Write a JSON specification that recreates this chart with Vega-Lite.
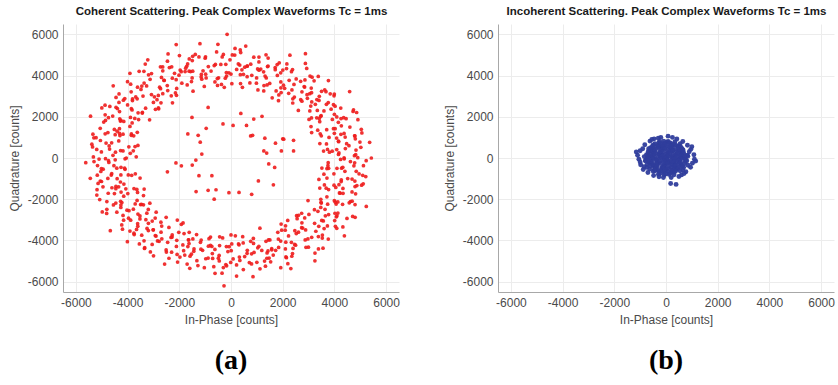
{
"$schema": "https://vega.github.io/schema/vega-lite/v6.json",
"padding": {"left": 8, "top": 5, "right": 2, "bottom": 2},
"background": "white",
"config": {
 "view": {"stroke": null},
 "font": "Liberation Sans",
 "locale": {"number": {"decimal": ".", "thousands": ",", "grouping": [3], "currency": ["$", ""], "minus": "-"}},
 "axis": {"labelFont": "Liberation Sans", "labelFontSize": 12, "labelColor": "#4a4a4a", "titleFont": "Liberation Sans", "titleFontSize": 12, "titleFontWeight": "normal", "titleColor": "#4a4a4a", "domainColor": "#a8a8a8", "gridColor": "#ececec", "ticks": false, "labelPadding": 5, "format": "d"}
},
"datasets": {
"coherent": [
{"x":3760,"y":-230},{"x":4380,"y":-40},{"x":5230,"y":-130},{"x":4240,"y":-70},{"x":4825,"y":160},{"x":4375,"y":4},{"x":3582,"y":338},{"x":4836,"y":385},{"x":4158,"y":172},{"x":5364,"y":758},{"x":4091,"y":410},{"x":4474,"y":693},{"x":3694,"y":681},{"x":4988,"y":771},{"x":4165,"y":794},{"x":4417,"y":1013},{"x":3794,"y":996},{"x":5063,"y":1217},{"x":4252,"y":1147},{"x":3494,"y":1074},{"x":4375,"y":1191},{"x":4910,"y":1857},{"x":3703,"y":1374},{"x":4600,"y":1500},{"x":4153,"y":1732},{"x":3120,"y":1235},{"x":4359,"y":1954},{"x":3920,"y":1868},{"x":4861,"y":2207},{"x":3433,"y":1761},{"x":4000,"y":2120},{"x":3417,"y":1910},{"x":4247,"y":2420},{"x":3488,"y":2054},{"x":4027,"y":2516},{"x":3316,"y":1950},{"x":3987,"y":3018},{"x":3692,"y":2604},{"x":3114,"y":1944},{"x":3404,"y":2793},{"x":3998,"y":3104},{"x":3263,"y":2602},{"x":3675,"y":3215},{"x":3124,"y":2721},{"x":2605,"y":2308},{"x":3504,"y":3234},{"x":2941,"y":3071},{"x":3769,"y":3759},{"x":2743,"y":2756},{"x":3104,"y":3392},{"x":2389,"y":2668},{"x":3138,"y":3923},{"x":2745,"y":3211},{"x":2849,"y":3440},{"x":2232,"y":3136},{"x":3058,"y":3977},{"x":2694,"y":3722},{"x":1851,"y":3058},{"x":2437,"y":3569},{"x":2929,"y":4347},{"x":1930,"y":3407},{"x":2380,"y":4290},{"x":2250,"y":3767},{"x":1594,"y":2918},{"x":2005,"y":4266},{"x":1928,"y":3690},{"x":2279,"y":4987},{"x":1499,"y":3617},{"x":1793,"y":4006},{"x":1396,"y":3543},{"x":1786,"y":4533},{"x":1319,"y":3976},{"x":1413,"y":4435},{"x":1276,"y":3514},{"x":1437,"y":4845},{"x":1084,"y":4262},{"x":984,"y":3631},{"x":1151,"y":4314},{"x":882,"y":4893},{"x":804,"y":4008},{"x":1080,"y":4660},{"x":532,"y":4406},{"x":442,"y":3427},{"x":764,"y":4551},{"x":422,"y":4278},{"x":358,"y":5243},{"x":361,"y":4040},{"x":284,"y":4565},{"x":33,"y":3606},{"x":145,"y":4995},
{"x":0,"y":4070},{"x":-40,"y":4760},{"x":-220,"y":3870},{"x":-340,"y":4905},{"x":-202,"y":4545},{"x":-368,"y":3566},{"x":-603,"y":4537},{"x":-557,"y":5144},{"x":-481,"y":3889},{"x":-1000,"y":4840},{"x":-772,"y":4216},{"x":-522,"y":3517},{"x":-1240,"y":4902},{"x":-1081,"y":4228},{"x":-1201,"y":5548},{"x":-1155,"y":3929},{"x":-1498,"y":4727},{"x":-1131,"y":3826},{"x":-1615,"y":4803},{"x":-1565,"y":4194},{"x":-1677,"y":4563},{"x":-1504,"y":3883},{"x":-1995,"y":4970},{"x":-1967,"y":4268},{"x":-1694,"y":3547},{"x":-1926,"y":4185},{"x":-2435,"y":5046},{"x":-2122,"y":3799},{"x":-2384,"y":4388},{"x":-2185,"y":4110},{"x":-2110,"y":3043},{"x":-2643,"y":4416},{"x":-2270,"y":3871},{"x":-3317,"y":4555},{"x":-2466,"y":3512},{"x":-2690,"y":3910},{"x":-2448,"y":3273},{"x":-3369,"y":4202},{"x":-2725,"y":3363},{"x":-3130,"y":3816},{"x":-2812,"y":3033},{"x":-3554,"y":4202},{"x":-3265,"y":3496},{"x":-2709,"y":2675},{"x":-3451,"y":3489},{"x":-4004,"y":3704},{"x":-3078,"y":3078},{"x":-3882,"y":3582},{"x":-3631,"y":2871},{"x":-2809,"y":2429},{"x":-3863,"y":3212},{"x":-3810,"y":2866},{"x":-4557,"y":3502},{"x":-3305,"y":2418},{"x":-4162,"y":2802},{"x":-3433,"y":2178},{"x":-4332,"y":3109},{"x":-3828,"y":2331},{"x":-4449,"y":2457},{"x":-3594,"y":2189},{"x":-4688,"y":2500},{"x":-4396,"y":2400},{"x":-3575,"y":1865},{"x":-4304,"y":1903},{"x":-4998,"y":2427},{"x":-4149,"y":1772},{"x":-4869,"y":2097},{"x":-4279,"y":1793},{"x":-3625,"y":1248},{"x":-4925,"y":1742},{"x":-4315,"y":1424},{"x":-5434,"y":2027},{"x":-4314,"y":1200},{"x":-4763,"y":1235},{"x":-3854,"y":1165},{"x":-5343,"y":1157},{"x":-4481,"y":1129},{"x":-4869,"y":1175},{"x":-3952,"y":542},{"x":-5306,"y":982},{"x":-4618,"y":737},{"x":-3714,"y":553},{"x":-4715,"y":588},{"x":-5356,"y":537},{"x":-4179,"y":341},{"x":-5015,"y":295},{"x":-4698,"y":433},{"x":-3666,"y":57},{"x":-4855,"y":-35},{"x":-4566,"y":129},
{"x":-5620,"y":-230},{"x":-4100,"y":-40},{"x":-4740,"y":-130},{"x":-4116,"y":-493},{"x":-5165,"y":-365},{"x":-4256,"y":-454},{"x":-4946,"y":-544},{"x":-4100,"y":-550},{"x":-5174,"y":-836},{"x":-4634,"y":-825},{"x":-3974,"y":-823},{"x":-4615,"y":-758},{"x":-5143,"y":-1232},{"x":-4278,"y":-1164},{"x":-5010,"y":-1140},{"x":-4347,"y":-1396},{"x":-3518,"y":-972},{"x":-4953,"y":-1399},{"x":-4254,"y":-1650},{"x":-5191,"y":-1800},{"x":-4069,"y":-1497},{"x":-4510,"y":-1723},{"x":-3643,"y":-1526},{"x":-4803,"y":-2116},{"x":-4150,"y":-1850},{"x":-4457,"y":-2184},{"x":-3616,"y":-1668},{"x":-4803,"y":-2491},{"x":-4263,"y":-2401},{"x":-3386,"y":-1825},{"x":-4024,"y":-2530},{"x":-4810,"y":-2690},{"x":-3707,"y":-2230},{"x":-4155,"y":-3015},{"x":-3946,"y":-2553},{"x":-3140,"y":-2192},{"x":-3964,"y":-2921},{"x":-3600,"y":-2717},{"x":-4670,"y":-3524},{"x":-3256,"y":-2679},{"x":-3612,"y":-3186},{"x":-3200,"y":-2493},{"x":-3909,"y":-3542},{"x":-3195,"y":-3167},{"x":-3606,"y":-3311},{"x":-3048,"y":-3058},{"x":-3746,"y":-3716},{"x":-3248,"y":-3418},{"x":-2712,"y":-3113},{"x":-3197,"y":-3518},{"x":-3546,"y":-4168},{"x":-2682,"y":-3303},{"x":-3365,"y":-4015},{"x":-2901,"y":-3787},{"x":-2077,"y":-3012},{"x":-3051,"y":-4194},{"x":-2707,"y":-3600},{"x":-2998,"y":-4745},{"x":-2275,"y":-3730},{"x":-2782,"y":-4043},{"x":-2020,"y":-3607},{"x":-2510,"y":-4457},{"x":-2320,"y":-3854},{"x":-2299,"y":-4567},{"x":-1816,"y":-3664},{"x":-2401,"y":-4863},{"x":-2113,"y":-4290},{"x":-1617,"y":-3603},{"x":-1832,"y":-4494},{"x":-2067,"y":-5050},{"x":-1624,"y":-4153},{"x":-1790,"y":-4710},{"x":-1431,"y":-4410},{"x":-1332,"y":-3714},{"x":-1584,"y":-4760},{"x":-1100,"y":-4480},{"x":-1595,"y":-5353},{"x":-1182,"y":-4091},{"x":-978,"y":-4887},{"x":-851,"y":-3914},{"x":-1281,"y":-5218},{"x":-741,"y":-4288},{"x":-709,"y":-4872},{"x":-794,"y":-4242},{"x":-666,"y":-5274},{"x":-488,"y":-4857},{"x":-439,"y":-3821},{"x":-459,"y":-4725},{"x":-346,"y":-5585},{"x":-178,"y":-4296},
{"x":-170,"y":-5230},{"x":-120,"y":-4540},{"x":0,"y":-3730},{"x":215,"y":-5185},{"x":9,"y":-4496},{"x":216,"y":-5725},{"x":471,"y":-4120},{"x":324,"y":-4807},{"x":290,"y":-4171},{"x":796,"y":-5139},{"x":631,"y":-4478},{"x":529,"y":-4782},{"x":762,"y":-4042},{"x":1122,"y":-5376},{"x":797,"y":-4648},{"x":864,"y":-3901},{"x":1191,"y":-4484},{"x":1333,"y":-5250},{"x":1078,"y":-4284},{"x":1475,"y":-4855},{"x":1431,"y":-4510},{"x":1119,"y":-3402},{"x":1634,"y":-4707},{"x":1575,"y":-4400},{"x":2199,"y":-5127},{"x":1449,"y":-3977},{"x":1843,"y":-4336},{"x":1811,"y":-3605},{"x":2145,"y":-4834},{"x":1832,"y":-3931},{"x":2400,"y":-4387},{"x":1960,"y":-3504},{"x":2380,"y":-4633},{"x":2464,"y":-4191},{"x":2111,"y":-3288},{"x":2337,"y":-4089},{"x":2996,"y":-4328},{"x":2470,"y":-3528},{"x":2900,"y":-4335},{"x":2611,"y":-3597},{"x":2194,"y":-3027},{"x":3122,"y":-3847},{"x":2774,"y":-3399},{"x":3560,"y":-4377},{"x":2743,"y":-3146},{"x":3283,"y":-3553},{"x":2537,"y":-2797},{"x":3536,"y":-3736},{"x":3235,"y":-3167},{"x":3396,"y":-3311},{"x":2852,"y":-2906},{"x":4040,"y":-3311},{"x":3573,"y":-3055},{"x":2733,"y":-2680},{"x":3651,"y":-2805},{"x":4328,"y":-3346},{"x":3228,"y":-2510},{"x":4075,"y":-2855},{"x":3776,"y":-2743},{"x":2980,"y":-2062},{"x":4023,"y":-2680},{"x":3740,"y":-2240},{"x":4803,"y":-2880},{"x":3483,"y":-2151},{"x":4068,"y":-2234},{"x":3475,"y":-2001},{"x":4621,"y":-2116},{"x":3710,"y":-1880},{"x":4317,"y":-2244},{"x":3776,"y":-1532},{"x":4687,"y":-2092},{"x":4223,"y":-1705},{"x":3614,"y":-1304},{"x":4335,"y":-1711},{"x":4820,"y":-1738},{"x":3987,"y":-1318},{"x":4870,"y":-1335},{"x":4177,"y":-1296},{"x":3401,"y":-1039},{"x":4792,"y":-1119},{"x":4263,"y":-1145},{"x":5214,"y":-898},{"x":3981,"y":-770},{"x":4684,"y":-1023},{"x":3711,"y":-510},{"x":4955,"y":-766},{"x":4279,"y":-492},{"x":4755,"y":-380},{"x":3776,"y":-498},{"x":5125,"y":-370},
{"x":-4050,"y":0},{"x":-4530,"y":-370},{"x":-5300,"y":-170},{"x":-4480,"y":-90},{"x":-5015,"y":-510},{"x":-4725,"y":-214},{"x":-3702,"y":-768},{"x":-5036,"y":-655},{"x":-4418,"y":-492},{"x":-5444,"y":-988},{"x":-4261,"y":-820},{"x":-4764,"y":-993},{"x":-3844,"y":-841},{"x":-5058,"y":-1121},{"x":-4405,"y":-1004},{"x":-4607,"y":-1443},{"x":-4144,"y":-1266},{"x":-5183,"y":-1537},{"x":-4452,"y":-1377},{"x":-3754,"y":-1484},{"x":-4455,"y":-1491},{"x":-5080,"y":-2017},{"x":-3993,"y":-1724},{"x":-4750,"y":-1710},{"x":-4223,"y":-2162},{"x":-3360,"y":-1505},{"x":-4549,"y":-2274},{"x":-4270,"y":-2098},{"x":-4981,"y":-2617},{"x":-3633,"y":-2061},{"x":-4260,"y":-2280},{"x":-3497,"y":-2260},{"x":-4417,"y":-2630},{"x":-3778,"y":-2484},{"x":-4177,"y":-2786},{"x":-3386,"y":-2270},{"x":-4227,"y":-3248},{"x":-3882,"y":-3014},{"x":-3464,"y":-2244},{"x":-3524,"y":-2953},{"x":-4198,"y":-3454},{"x":-3523,"y":-2812},{"x":-3755,"y":-3645},{"x":-3294,"y":-2991},{"x":-2895,"y":-2628},{"x":-3654,"y":-3464},{"x":-3011,"y":-3481},{"x":-4009,"y":-4059},{"x":-2933,"y":-2916},{"x":-3454,"y":-3742},{"x":-2509,"y":-2878},{"x":-3338,"y":-4353},{"x":-3005,"y":-3481},{"x":-2929,"y":-3760},{"x":-2402,"y":-3366},{"x":-3348,"y":-4387},{"x":-2844,"y":-4022},{"x":-1921,"y":-3218},{"x":-2677,"y":-3919},{"x":-3119,"y":-4557},{"x":-2280,"y":-3837},{"x":-2500,"y":-4560},{"x":-2450,"y":-4087},{"x":-1854,"y":-3148},{"x":-2085,"y":-4676},{"x":-2098,"y":-3990},{"x":-2569,"y":-5147},{"x":-1649,"y":-3967},{"x":-1863,"y":-4216},{"x":-1636,"y":-3973},{"x":-1976,"y":-4803},{"x":-1669,"y":-4296},{"x":-1533,"y":-4665},{"x":-1476,"y":-3924},{"x":-1697,"y":-5145},{"x":-1164,"y":-4422},{"x":-1154,"y":-3981},{"x":-1441,"y":-4524},{"x":-1032,"y":-5323},{"x":-874,"y":-4278},{"x":-1320,"y":-4980},{"x":-722,"y":-4636},{"x":-792,"y":-3837},{"x":-884,"y":-4851},{"x":-622,"y":-4438},{"x":-618,"y":-5593},{"x":-441,"y":-4250},{"x":-454,"y":-4995},{"x":-323,"y":-3876},{"x":-295,"y":-5315},
{"x":-70,"y":-4300},{"x":-200,"y":-5170},{"x":30,"y":-4170},{"x":-10,"y":-5065},{"x":82,"y":-4895},{"x":168,"y":-3776},{"x":343,"y":-4967},{"x":477,"y":-5414},{"x":311,"y":-4209},{"x":710,"y":-5070},{"x":622,"y":-4626},{"x":452,"y":-3817},{"x":1000,"y":-5062},{"x":891,"y":-4578},{"x":851,"y":-5758},{"x":1035,"y":-4359},{"x":1298,"y":-4997},{"x":871,"y":-4146},{"x":1535,"y":-5033},{"x":1395,"y":-4604},{"x":1387,"y":-4863},{"x":1354,"y":-4043},{"x":1925,"y":-5320},{"x":1727,"y":-4478},{"x":1504,"y":-3977},{"x":1576,"y":-4455},{"x":2315,"y":-5366},{"x":1922,"y":-4029},{"x":2124,"y":-4798},{"x":2105,"y":-4410},{"x":1940,"y":-3203},{"x":2353,"y":-4766},{"x":2120,"y":-4081},{"x":3247,"y":-4985},{"x":2226,"y":-3782},{"x":2500,"y":-4230},{"x":2098,"y":-3503},{"x":3249,"y":-4612},{"x":2525,"y":-3663},{"x":2870,"y":-3976},{"x":2732,"y":-3383},{"x":3384,"y":-4412},{"x":2975,"y":-3926},{"x":2559,"y":-2945},{"x":3381,"y":-3809},{"x":3764,"y":-3934},{"x":2888,"y":-3488},{"x":3532,"y":-3882},{"x":3511,"y":-3031},{"x":2609,"y":-2779},{"x":3603,"y":-3422},{"x":3730,"y":-3296},{"x":4387,"y":-3772},{"x":3015,"y":-2738},{"x":4012,"y":-3032},{"x":3363,"y":-2588},{"x":4092,"y":-3409},{"x":3638,"y":-2491},{"x":4099,"y":-2807},{"x":3474,"y":-2399},{"x":4488,"y":-2930},{"x":4136,"y":-2670},{"x":3495,"y":-2185},{"x":4134,"y":-2133},{"x":4708,"y":-2837},{"x":3999,"y":-2072},{"x":4799,"y":-2257},{"x":4039,"y":-2143},{"x":3435,"y":-1458},{"x":4575,"y":-2172},{"x":4195,"y":-1694},{"x":5234,"y":-2347},{"x":4054,"y":-1430},{"x":4683,"y":-1645},{"x":3684,"y":-1465},{"x":5053,"y":-1317},{"x":4331,"y":-1479},{"x":4799,"y":-1385},{"x":3712,"y":-972},{"x":5116,"y":-1252},{"x":4268,"y":-1057},{"x":3594,"y":-783},{"x":4515,"y":-998},{"x":5096,"y":-837},{"x":4099,"y":-501},{"x":4845,"y":-645},{"x":4408,"y":-643},{"x":3516,"y":-487},{"x":4785,"y":-235},{"x":4326,"y":-449},
{"x":5430,"y":0},{"x":3750,"y":-370},{"x":4620,"y":-170},{"x":3916,"y":333},{"x":4905,"y":15},{"x":4176,"y":244},{"x":4776,"y":114},{"x":3810,"y":280},{"x":5024,"y":516},{"x":4564,"y":595},{"x":3734,"y":413},{"x":4425,"y":458},{"x":4793,"y":1072},{"x":4158,"y":814},{"x":4810,"y":930},{"x":4087,"y":966},{"x":3438,"y":702},{"x":4783,"y":1079},{"x":3964,"y":1420},{"x":5041,"y":1390},{"x":3999,"y":1197},{"x":4270,"y":1563},{"x":3453,"y":1176},{"x":4453,"y":1906},{"x":4030,"y":1420},{"x":4257,"y":1914},{"x":3356,"y":1348},{"x":4723,"y":2261},{"x":4093,"y":1991},{"x":3096,"y":1525},{"x":3874,"y":2370},{"x":4740,"y":2340},{"x":3467,"y":2020},{"x":3965,"y":2585},{"x":3596,"y":2283},{"x":3020,"y":1872},{"x":3764,"y":2691},{"x":3340,"y":2307},{"x":4590,"y":3224},{"x":3086,"y":2519},{"x":3322,"y":2836},{"x":3050,"y":2283},{"x":3839,"y":3112},{"x":2955,"y":2897},{"x":3416,"y":2991},{"x":2698,"y":2828},{"x":3626,"y":3306},{"x":3048,"y":3118},{"x":2452,"y":2953},{"x":3117,"y":3168},{"x":3376,"y":3958},{"x":2392,"y":2873},{"x":3215,"y":3745},{"x":2831,"y":3467},{"x":1837,"y":2782},{"x":2861,"y":3784},{"x":2357,"y":3300},{"x":2878,"y":4585},{"x":2075,"y":3380},{"x":2522,"y":3833},{"x":1940,"y":3177},{"x":2340,"y":4187},{"x":2030,"y":3534},{"x":2149,"y":4337},{"x":1746,"y":3254},{"x":2161,"y":4563},{"x":1923,"y":4130},{"x":1267,"y":3253},{"x":1712,"y":4284},{"x":1867,"y":4620},{"x":1364,"y":3883},{"x":1710,"y":4390},{"x":1261,"y":4180},{"x":1042,"y":3304},{"x":1434,"y":4460},{"x":1030,"y":4320},{"x":1355,"y":5003},{"x":992,"y":3881},{"x":628,"y":4457},{"x":731,"y":3644},{"x":1081,"y":4898},{"x":481,"y":4058},{"x":629,"y":4462},{"x":624,"y":3942},{"x":376,"y":5114},{"x":338,"y":4507},{"x":369,"y":3611},{"x":219,"y":4295},{"x":156,"y":5315},{"x":-172,"y":3976},
{"x":50,"y":5000},{"x":-80,"y":4130},{"x":-260,"y":3430},{"x":-295,"y":5025},{"x":-179,"y":4146},{"x":-506,"y":5515},{"x":-621,"y":3690},{"x":-394,"y":4537},{"x":-530,"y":3851},{"x":-986,"y":4909},{"x":-981,"y":4068},{"x":-649,"y":4482},{"x":-962,"y":3882},{"x":-1382,"y":5026},{"x":-877,"y":4438},{"x":-1034,"y":3471},{"x":-1481,"y":4214},{"x":-1483,"y":4930},{"x":-1148,"y":4054},{"x":-1715,"y":4445},{"x":-1621,"y":4210},{"x":-1469,"y":3242},{"x":-1754,"y":4357},{"x":-1775,"y":4190},{"x":-2459,"y":4697},{"x":-1529,"y":3707},{"x":-2013,"y":4016},{"x":-2101,"y":3375},{"x":-2295,"y":4424},{"x":-1902,"y":3631},{"x":-2640,"y":4227},{"x":-2150,"y":3154},{"x":-2730,"y":4423},{"x":-2584,"y":3761},{"x":-2311,"y":3018},{"x":-2597,"y":3769},{"x":-3076,"y":4098},{"x":-2640,"y":3118},{"x":-3190,"y":4035},{"x":-2761,"y":3437},{"x":-2264,"y":2677},{"x":-3362,"y":3637},{"x":-2964,"y":2969},{"x":-3910,"y":4107},{"x":-2863,"y":2826},{"x":-3483,"y":3323},{"x":-2797,"y":2387},{"x":-3616,"y":3436},{"x":-3405,"y":3007},{"x":-3686,"y":2961},{"x":-3002,"y":2696},{"x":-4110,"y":2881},{"x":-3813,"y":2785},{"x":-2923,"y":2360},{"x":-4001,"y":2575},{"x":-4448,"y":2936},{"x":-3428,"y":2210},{"x":-4335,"y":2695},{"x":-3856,"y":2393},{"x":-3150,"y":1852},{"x":-4313,"y":2250},{"x":-3890,"y":1970},{"x":-4873,"y":2560},{"x":-3723,"y":1921},{"x":-4258,"y":1824},{"x":-3825,"y":1701},{"x":-4741,"y":1956},{"x":-3910,"y":1530},{"x":-4577,"y":2034},{"x":-3856,"y":1102},{"x":-4857,"y":1822},{"x":-4513,"y":1385},{"x":-3764,"y":1074},{"x":-4405,"y":1301},{"x":-5060,"y":1438},{"x":-4177,"y":1158},{"x":-5220,"y":985},{"x":-4297,"y":1086},{"x":-3601,"y":609},{"x":-5052,"y":849},{"x":-4343,"y":825},{"x":-5384,"y":668},{"x":-4271,"y":360},{"x":-4834,"y":723},{"x":-3781,"y":350},{"x":-5195,"y":416},{"x":-4469,"y":282},{"x":-5105,"y":-50},{"x":-3896,"y":228},{"x":-5325,"y":50},
{"x":-885,"y":2450},{"x":-1510,"y":1970},{"x":380,"y":2160},{"x":880,"y":1890},{"x":1200,"y":2020},{"x":-310,"y":1650},{"x":80,"y":1580},{"x":600,"y":1580},{"x":-960,"y":1440},{"x":-1670,"y":1170},{"x":-1270,"y":1100},{"x":760,"y":1070},{"x":1310,"y":960},{"x":2000,"y":930},{"x":2420,"y":860},{"x":-1190,"y":770},{"x":1720,"y":720},{"x":1270,"y":340},{"x":1380,"y":240},{"x":1950,"y":340},{"x":2420,"y":340},{"x":-1130,"y":190},{"x":-1360,"y":-100},{"x":-1500,"y":-340},{"x":-2130,"y":-240},{"x":-1920,"y":-380},{"x":1460,"y":-290},{"x":1690,"y":-460},{"x":-2460,"y":-670},{"x":-1240,"y":-860},{"x":-740,"y":-860},{"x":1060,"y":-1110},{"x":1640,"y":-1300},{"x":-1350,"y":-1630},{"x":-885,"y":-1570},{"x":-580,"y":-1540},{"x":-80,"y":-1680},{"x":310,"y":-1670},{"x":800,"y":-1760},{"x":-650,"y":-2000},{"x":835,"y":1100},{"x":2040,"y":910},
{"x":-150,"y":6000},{"x":-2120,"y":5500},{"x":570,"y":5430},{"x":2880,"y":5060},{"x":-3220,"y":4760},{"x":-270,"y":-6200}
],
"incoherent": [
{"x":-277,"y":745},{"x":-241,"y":798},{"x":-88,"y":821},{"x":37,"y":768},{"x":82,"y":807},{"x":167,"y":736},{"x":345,"y":788},
{"x":-495,"y":638},{"x":-427,"y":693},{"x":-270,"y":625},{"x":-209,"y":678},{"x":-77,"y":701},{"x":-41,"y":648},{"x":112,"y":687},{"x":237,"y":616},{"x":282,"y":668},{"x":367,"y":638},{"x":545,"y":693},
{"x":-595,"y":505},{"x":-527,"y":558},{"x":-370,"y":581},{"x":-309,"y":528},{"x":-177,"y":567},{"x":-141,"y":496},{"x":12,"y":548},{"x":137,"y":518},{"x":182,"y":573},{"x":267,"y":505},{"x":445,"y":558},{"x":505,"y":581},{"x":573,"y":528},
{"x":-670,"y":447},{"x":-609,"y":376},{"x":-477,"y":428},{"x":-441,"y":398},{"x":-288,"y":453},{"x":-163,"y":385},{"x":-118,"y":438},{"x":-33,"y":461},{"x":145,"y":408},{"x":205,"y":447},{"x":273,"y":376},{"x":430,"y":428},{"x":491,"y":398},{"x":623,"y":453},{"x":659,"y":385},
{"x":-688,"y":318},{"x":-563,"y":341},{"x":-518,"y":288},{"x":-433,"y":327},{"x":-255,"y":256},{"x":-195,"y":308},{"x":-127,"y":278},{"x":30,"y":333},{"x":91,"y":265},{"x":223,"y":318},{"x":259,"y":341},{"x":412,"y":288},{"x":537,"y":327},{"x":582,"y":256},{"x":667,"y":308},
{"x":-755,"y":158},{"x":-695,"y":213},{"x":-627,"y":145},{"x":-470,"y":198},{"x":-409,"y":221},{"x":-277,"y":168},{"x":-241,"y":207},{"x":-88,"y":136},{"x":37,"y":188},{"x":82,"y":158},{"x":167,"y":213},{"x":345,"y":145},{"x":405,"y":198},{"x":473,"y":221},{"x":630,"y":168},{"x":691,"y":207},{"x":823,"y":136},
{"x":-841,"y":68},{"x":-688,"y":38},{"x":-563,"y":93},{"x":-518,"y":25},{"x":-433,"y":78},{"x":-255,"y":101},{"x":-195,"y":48},{"x":-127,"y":87},{"x":30,"y":16},{"x":91,"y":68},{"x":223,"y":38},{"x":259,"y":93},{"x":412,"y":25},{"x":537,"y":78},{"x":582,"y":101},{"x":667,"y":48},{"x":845,"y":87},
{"x":-795,"y":-104},{"x":-727,"y":-52},{"x":-570,"y":-82},{"x":-509,"y":-27},{"x":-377,"y":-95},{"x":-341,"y":-42},{"x":-188,"y":-19},{"x":-63,"y":-72},{"x":-18,"y":-33},{"x":67,"y":-104},{"x":245,"y":-52},{"x":305,"y":-82},{"x":373,"y":-27},{"x":530,"y":-95},{"x":591,"y":-42},{"x":723,"y":-19},{"x":759,"y":-72},
{"x":-788,"y":-153},{"x":-663,"y":-224},{"x":-618,"y":-172},{"x":-533,"y":-202},{"x":-355,"y":-147},{"x":-295,"y":-215},{"x":-227,"y":-162},{"x":-70,"y":-139},{"x":-9,"y":-192},{"x":123,"y":-153},{"x":159,"y":-224},{"x":312,"y":-172},{"x":437,"y":-202},{"x":482,"y":-147},{"x":567,"y":-215},{"x":745,"y":-162},{"x":805,"y":-139},
{"x":-727,"y":-312},{"x":-570,"y":-273},{"x":-509,"y":-344},{"x":-377,"y":-292},{"x":-341,"y":-322},{"x":-188,"y":-267},{"x":-63,"y":-335},{"x":-18,"y":-282},{"x":67,"y":-259},{"x":245,"y":-312},{"x":305,"y":-273},{"x":373,"y":-344},{"x":530,"y":-292},{"x":591,"y":-322},{"x":723,"y":-267},
{"x":-741,"y":-455},{"x":-588,"y":-402},{"x":-463,"y":-379},{"x":-418,"y":-432},{"x":-333,"y":-393},{"x":-155,"y":-464},{"x":-95,"y":-412},{"x":-27,"y":-442},{"x":130,"y":-387},{"x":191,"y":-455},{"x":323,"y":-402},{"x":359,"y":-379},{"x":512,"y":-432},{"x":637,"y":-393},{"x":682,"y":-464},
{"x":-633,"y":-532},{"x":-455,"y":-562},{"x":-395,"y":-507},{"x":-327,"y":-575},{"x":-170,"y":-522},{"x":-109,"y":-499},{"x":23,"y":-552},{"x":59,"y":-513},{"x":212,"y":-584},{"x":337,"y":-532},{"x":382,"y":-562},{"x":467,"y":-507},{"x":645,"y":-575},
{"x":-495,"y":-642},{"x":-427,"y":-619},{"x":-270,"y":-672},{"x":-209,"y":-633},{"x":-77,"y":-704},{"x":-41,"y":-652},{"x":112,"y":-682},{"x":237,"y":-627},{"x":282,"y":-695},{"x":367,"y":-642},{"x":545,"y":-619},
{"x":-295,"y":-792},{"x":-227,"y":-753},{"x":-70,"y":-824},{"x":-9,"y":-772},{"x":123,"y":-802},{"x":159,"y":-747},{"x":312,"y":-815},
{"x":-1150,"y":290},{"x":-1100,"y":130},{"x":-1050,"y":-60},{"x":-980,"y":-330},{"x":-900,"y":450},{"x":-820,"y":640},{"x":-620,"y":820},{"x":-460,"y":930},{"x":-300,"y":960},{"x":80,"y":1060},{"x":250,"y":1000},{"x":420,"y":920},{"x":650,"y":800},{"x":830,"y":620},{"x":960,"y":420},{"x":1080,"y":160},{"x":1100,"y":-60},{"x":1020,"y":-250},{"x":950,"y":-450},{"x":770,"y":-670},{"x":600,"y":-820},{"x":390,"y":-1280},{"x":180,"y":-1240},{"x":-270,"y":-910},{"x":-480,"y":-850},{"x":-700,"y":-700},{"x":-880,"y":-560},{"x":-1000,"y":-200},{"x":200,"y":-950},{"x":500,"y":-900},{"x":900,"y":300},{"x":1150,"y":-150},{"x":-200,"y":1000},{"x":700,"y":-750},{"x":-850,"y":-420},{"x":1000,"y":550},{"x":-1000,"y":350},{"x":-550,"y":900},{"x":850,"y":-350},{"x":-100,"y":-950}
]
},
"spacing": 43,
"hconcat": [
{
 "width": 336, "height": 268,
 "title": {"text": "(a)", "orient": "bottom", "font": "Liberation Serif", "fontSize": 28, "fontWeight": "bold", "color": "black", "offset": 22, "frame": "group", "anchor": "middle"},
 "data": {"name": "coherent"},
 "layer": [
  {"mark": {"type": "circle", "size": 14, "color": "#ee1c1c", "opacity": 0.9},
   "encoding": {
    "x": {"field": "x", "type": "quantitative", "scale": {"domain": [-6500, 6500], "nice": false}, "axis": {"title": "In-Phase [counts]", "values": [-6000, -4000, -2000, 0, 2000, 4000, 6000], "titlePadding": 6}},
    "y": {"field": "y", "type": "quantitative", "scale": {"domain": [-6500, 6500], "nice": false}, "axis": {"title": "Quadrature [counts]", "values": [-6000, -4000, -2000, 0, 2000, 4000, 6000], "titlePadding": 6}}
   }},
  {"mark": {"type": "circle", "opacity": 0},
   "encoding": {
    "x": {"field": "x", "type": "quantitative", "axis": {"orient": "top", "title": "Coherent Scattering. Peak Complex Waveforms Tc = 1ms", "labels": false, "ticks": false, "domain": false, "grid": false, "titleFontWeight": "bold", "titleFontSize": 11.5, "titleColor": "#1a1a1a", "titlePadding": 8}}
   }}
 ],
 "resolve": {"axis": {"x": "independent"}}
},
{
 "width": 336, "height": 268,
 "title": {"text": "(b)", "orient": "bottom", "font": "Liberation Serif", "fontSize": 28, "fontWeight": "bold", "color": "black", "offset": 22, "frame": "group", "anchor": "middle"},
 "data": {"name": "incoherent"},
 "layer": [
  {"mark": {"type": "circle", "size": 24, "color": "#2f3d9c", "opacity": 0.95},
   "encoding": {
    "x": {"field": "x", "type": "quantitative", "scale": {"domain": [-6500, 6500], "nice": false}, "axis": {"title": "In-Phase [counts]", "values": [-6000, -4000, -2000, 0, 2000, 4000, 6000], "titlePadding": 6}},
    "y": {"field": "y", "type": "quantitative", "scale": {"domain": [-6500, 6500], "nice": false}, "axis": {"title": "Quadrature [counts]", "values": [-6000, -4000, -2000, 0, 2000, 4000, 6000], "titlePadding": 6}}
   }},
  {"mark": {"type": "circle", "opacity": 0},
   "encoding": {
    "x": {"field": "x", "type": "quantitative", "axis": {"orient": "top", "title": "Incoherent Scattering. Peak Complex Waveforms Tc = 1ms", "labels": false, "ticks": false, "domain": false, "grid": false, "titleFontWeight": "bold", "titleFontSize": 11.5, "titleColor": "#1a1a1a", "titlePadding": 8}}
   }}
 ],
 "resolve": {"axis": {"x": "independent"}}
}
]
}
